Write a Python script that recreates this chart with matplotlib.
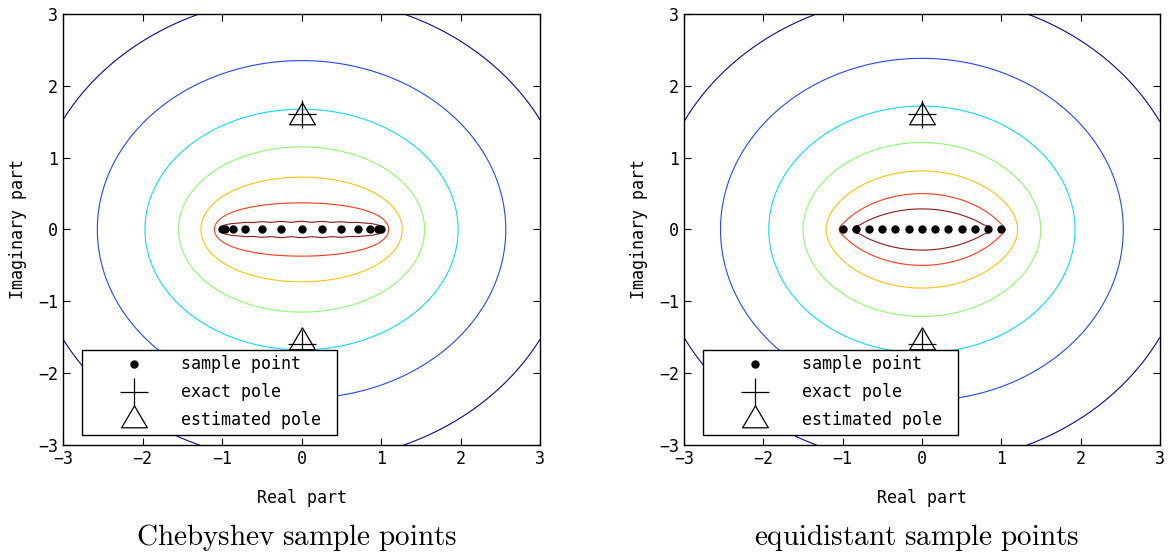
import numpy as np
import matplotlib.pyplot as plt
from matplotlib.path import Path

plt.rcParams['font.family'] = ['DejaVu Sans Mono']
plt.rcParams['mathtext.fontset'] = 'cm'

# sample points on the real axis
cheb_x = [-1.0, -0.966, -0.866, -0.707, -0.5, -0.259, 0.0,
          0.259, 0.5, 0.707, 0.866, 0.966, 1.0]
equi_x = [-1.0, -0.833, -0.667, -0.5, -0.333, -0.167, 0.0,
          0.167, 0.333, 0.5, 0.667, 0.833, 1.0]

# poles (imaginary parts, real part = 0)
exact_pole = [1.6, -1.6]
est_pole_cheb = [1.57, -1.57]
est_pole_equi = [1.57, -1.57]

# levels of the log potential of the sample points
levels = [-0.54, -0.3, 0.0, 0.3, 0.6, 0.9, 1.2]
level_colors = ['#8b1a1a', '#ff3a1a', '#ffc010', '#90f870', '#10d8ff', '#2448f0', '#0a0a8a']
titles = ['Chebyshev sample points', 'equidistant sample points']

# triangle centred on its centroid (like MATLAB '^')
tri = Path([(-1, -0.567), (1, -0.567), (0, 1.133), (-1, -0.567)],
           [Path.MOVETO, Path.LINETO, Path.LINETO, Path.CLOSEPOLY])

g = np.linspace(-3, 3, 300)
X, Y = np.meshgrid(g, g)
Z = X + 1j * Y

fig = plt.figure(figsize=(11.72, 5.55), dpi=100)
axes = [fig.add_axes([0.0538, 0.198, 0.407, 0.777]),
        fig.add_axes([0.5836, 0.198, 0.406, 0.777])]

for ax, pts, est, title in zip(axes, [cheb_x, equi_x],
                               [est_pole_cheb, est_pole_equi], titles):
    pts = np.array(pts)
    U = np.mean(np.log(np.abs(Z[..., None] - pts) + 1e-12), axis=-1)
    ax.contour(X, Y, U, levels=levels, colors=level_colors, linewidths=0.8)

    ax.plot(pts, np.zeros_like(pts), 'k.', markersize=10, label='sample point', zorder=3)
    ax.plot([0, 0], exact_pole, 'k+', markersize=20, markeredgewidth=0.9,
            label='exact pole', zorder=3)
    ax.plot([0, 0], est, linestyle='none', marker=tri, markersize=21,
            markerfacecolor='none', markeredgecolor='k', markeredgewidth=0.9,
            label='estimated pole', zorder=3)

    ax.set_xlim(-3, 3)
    ax.set_ylim(-3, 3)
    ax.set_xticks(range(-3, 4))
    ax.set_yticks(range(-3, 4))
    ax.tick_params(direction='in', top=True, right=True, length=5, labelsize=12)
    ax.set_xlabel('Real part', fontsize=12, labelpad=15)
    ax.set_ylabel('Imaginary part', fontsize=12, labelpad=8)
    for s in ax.spines.values():
        s.set_linewidth(1.0)

    leg = ax.legend(loc='lower left', bbox_to_anchor=(0.04, 0.023, 0.535, 0.21),
                    mode='expand', fontsize=12, handlelength=5.5, handletextpad=0.1,
                    labelspacing=0.6, borderpad=0.35, borderaxespad=0,
                    fancybox=False, framealpha=1, edgecolor='k')
    leg.get_frame().set_linewidth(1.0)
    leg.set_zorder(5)

    ax.text(0.489, -0.215, r'$\mathrm{' + title.replace(' ', r'\ ') + '}$',
            transform=ax.transAxes, ha='center', va='center', fontsize=21)

plt.savefig('out.png', dpi=100)
